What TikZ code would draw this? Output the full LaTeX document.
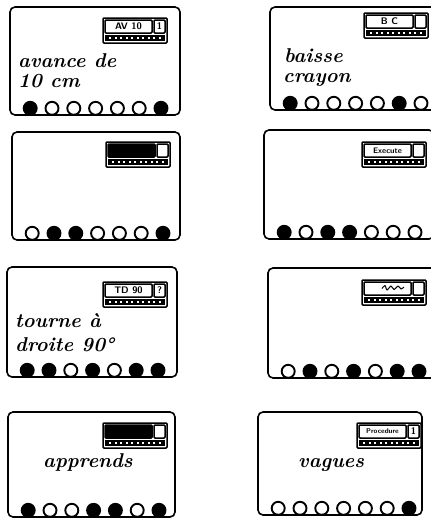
\documentclass[tikz,border=0pt]{standalone}
\usepackage{fontspec}
\usetikzlibrary{calc}

% tag of a card: top right corner, label, small box, fill of the label box
\newcommand{\etiquette}[4]{%
  \begin{scope}[shift={#1}]
    \draw[cadre, fill=white] (-64,0) rectangle (0,25);
    \draw[cadre, fill=#4] (-62,2) rectangle (-15,15);
    \draw[cadre] (-13,2) rectangle (-2,15);
    \fill (-62,17) rectangle (-2,23);
    \foreach \k in {0,...,9}
      \fill[white] (-58+5.5*\k,19) rectangle ++(2,2);
    \node[tagtext] at (-38.5,8.5) {#2};
    \node[tagtext] at (-7.5,8.5) {#3};
  \end{scope}}

\begin{document}
\begin{tikzpicture}[x=1pt, y=-1pt,
    carte/.style={draw, line width=1.6pt, rounded corners=5pt, inner sep=0pt, minimum width=170pt, minimum height=108pt},
    vide/.style={circle, draw, line width=1.9pt, fill=white, minimum size=13pt, inner sep=0pt},
    plein/.style={vide, fill=black},
    ecrit/.style={anchor=base west, inner sep=0pt, font=\fontsize{20}{24}\selectfont\bfseries\itshape},
    cadre/.style={line width=1.5pt, rounded corners=1pt},
    tagtext/.style={font=\fontsize{9.5}{10}\selectfont\sffamily\bfseries, inner sep=0pt}
]
\useasboundingbox (0,0) rectangle (431,520);
\clip (0,0) rectangle (431,520);

% cards
\node[carte] (avance) at (95,61) {};
\node[carte, minimum height=103pt] (baisse) at (355,58.5) {};
\node[carte, minimum width=168pt] (affiche) at (96,186) {};
\node[carte, minimum height=109pt] (execute) at (349,184.5) {};
\node[carte, minimum height=110pt] (tourne) at (92,322) {};
\node[carte, minimum height=110pt] (sortie) at (353,323) {};
\node[carte, minimum width=167pt, minimum height=105pt] (apprends) at (91.5,464.5) {};
\node[carte, minimum width=164pt, minimum height=103pt] (vagues) at (340,463.5) {};

% tags
\etiquette{(167,18)}{AV 10}{1}{white}
\etiquette{(428,13)}{B C}{}{white}
\etiquette{(170,142)}{}{}{black}
\etiquette{(426,142)}{\fontsize{8}{9}\selectfont Execute}{}{white}
\etiquette{(167,282)}{TD 90}{?}{white}
\etiquette{(426,280)}{}{}{white}
\draw[line width=1pt] plot[smooth] coordinates {(382,288.5) (385,285.5) (387,290) (391,286) (394,289.5) (398,286) (401,289) (404,287)};
\etiquette{(167,423)}{}{}{black}
\etiquette{(421,423)}{\fontsize{7}{8}\selectfont Procedure}{1}{white}

% written texts
\node[ecrit] (t1) at (18,67) {avance de};
\node[ecrit] (t2) at (18,87) {10 cm};
\node[ecrit] (t3) at (284,62) {baisse};
\node[ecrit] (t4) at (283,82) {crayon};
\node[ecrit] (t5) at (15,327) {tourne à};
\node[ecrit] (t6) at (15,351) {droite 90°};
\node[ecrit] (t7) at (43,467) {apprends};
\node[ecrit] (t8) at (298,467) {vagues};

% holes
\foreach \s [count=\i] in {plein,vide,vide,vide,vide,vide,plein}
  \node[\s] at ($(avance.south west)+(21.8*\i-0.8,-7.5)$) {};
\foreach \s [count=\i] in {plein,vide,vide,vide,vide,plein,vide}
  \node[\s] at ($(baisse.south west)+(21.8*\i-0.8,-7.5)$) {};
\foreach \s [count=\i] in {vide,plein,plein,vide,vide,vide,plein}
  \node[\s] at ($(affiche.south west)+(21.8*\i-0.8,-7.5)$) {};
\foreach \s [count=\i] in {plein,vide,plein,plein,vide,vide,vide}
  \node[\s] at ($(execute.south west)+(21.8*\i-0.8,-7.5)$) {};
\foreach \s [count=\i] in {plein,plein,vide,plein,vide,plein,plein}
  \node[\s] at ($(tourne.south west)+(21.8*\i-0.8,-7.5)$) {};
\foreach \s [count=\i] in {vide,plein,vide,plein,vide,plein,plein}
  \node[\s] at ($(sortie.south west)+(21.8*\i-0.8,-7.5)$) {};
\foreach \s [count=\i] in {plein,vide,vide,plein,plein,vide,plein}
  \node[\s] at ($(apprends.south west)+(21.8*\i-0.8,-7.5)$) {};
\foreach \s [count=\i] in {vide,vide,vide,vide,vide,vide,plein}
  \node[\s] at ($(vagues.south west)+(21.8*\i-0.8,-7.5)$) {};
\end{tikzpicture}
\end{document}
